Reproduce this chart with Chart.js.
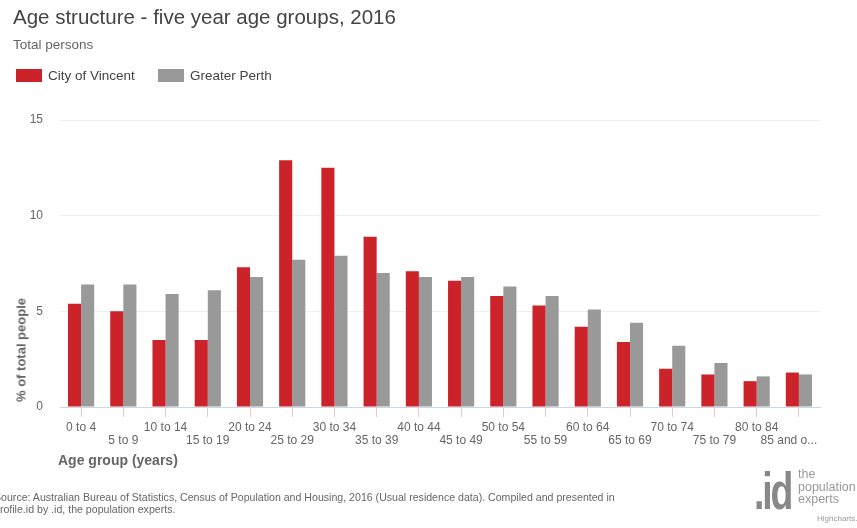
<!DOCTYPE html>
<html>
<head>
<meta charset="utf-8">
<title>Age structure - five year age groups, 2016</title>
<script src="https://cdn.jsdelivr.net/npm/chart.js@4.4.1/dist/chart.umd.min.js"></script>
<style>
  body { margin: 0; background: #fff; font-family: "Liberation Sans", Arial, sans-serif; }
  .wrap { position: relative; width: 857px; height: 528px; overflow: hidden; }
  #ageChart { position: absolute; left: 0; top: 0; }
  .title { position: absolute; left: 13px; top: 5px; font-size: 20.5px; color: #444; white-space: nowrap; }
  .subtitle { position: absolute; left: 13px; top: 37px; font-size: 13.5px; color: #666; }
  .legend { position: absolute; top: 68px; font-size: 13.5px; color: #444; white-space: nowrap; }
  .legend span { display: inline-block; width: 26px; height: 13px; vertical-align: -2px; margin-right: 6px; }
  .ytitle { position: absolute; left: 21px; top: 350px; font-size: 13px; font-weight: bold; color: #666;
            white-space: nowrap; transform: translate(-50%, -50%) rotate(-90deg); }
  .xtitle { position: absolute; left: 58px; top: 452px; font-size: 14px; font-weight: bold; color: #666; white-space: nowrap; }
  .source { position: absolute; left: -6px; top: 491px; font-size: 10.6px; line-height: 12px; color: #666; white-space: nowrap; }
  .logo { position: absolute; left: 754px; top: 461px; font-size: 52px; font-weight: bold; color: #888;
          letter-spacing: -3px; transform: scaleX(0.72); transform-origin: left top; }
  .logo-text { position: absolute; left: 798px; top: 468px; font-size: 12.5px; line-height: 12.5px; color: #999; white-space: nowrap; }
  .credits { position: absolute; left: 817px; top: 514px; font-size: 8px; color: #999; white-space: nowrap; }
</style>
</head>
<body>
<div class="wrap">
  <canvas id="ageChart" width="857" height="528"></canvas>
  <div class="title">Age structure - five year age groups, 2016</div>
  <div class="subtitle">Total persons</div>
  <div class="legend" style="left:16px"><span style="background:#cc2229"></span>City of Vincent</div>
  <div class="legend" style="left:158px"><span style="background:#999999"></span>Greater Perth</div>
  <div class="ytitle">% of total people</div>
  <div class="xtitle">Age group (years)</div>
  <div class="source">Source: Australian Bureau of Statistics, Census of Population and Housing, 2016 (Usual residence data). Compiled and presented in<br>profile.id by .id, the population experts.</div>
  <div class="logo">.id</div>
  <div class="logo-text">the<br>population<br>experts</div>
  <div class="credits">Highcharts.com</div>
</div>
<script>
const ageGroups = [
  "0 to 4", "5 to 9", "10 to 14", "15 to 19", "20 to 24", "25 to 29",
  "30 to 34", "35 to 39", "40 to 44", "45 to 49", "50 to 54", "55 to 59",
  "60 to 64", "65 to 69", "70 to 74", "75 to 79", "80 to 84", "85 and o..."
];
const vincent = [5.4, 5.0, 3.5, 3.5, 7.3, 12.9, 12.5, 8.9, 7.1, 6.6, 5.8, 5.3, 4.2, 3.4, 2.0, 1.7, 1.35, 1.8];
const perth = [6.4, 6.4, 5.9, 6.1, 6.8, 7.7, 7.9, 7.0, 6.8, 6.8, 6.3, 5.8, 5.1, 4.4, 3.2, 2.3, 1.6, 1.7];
const yTicks = [0, 5, 10, 15];

Chart.defaults.font.family = '"Liberation Sans", Arial, sans-serif';

// staggered labels, last one nudged left like the original
function tickLabel(value, i) {
  let text = ageGroups[i];
  if (i === ageGroups.length - 1) text += "      ";
  return i % 2 === 0 ? [text] : ["", text];
}

const ctx = document.getElementById("ageChart").getContext("2d");

new Chart(ctx, {
  type: "bar",
  data: {
    labels: ageGroups,
    datasets: [
      {
        label: "City of Vincent",
        data: vincent,
        backgroundColor: "#cc2229",
        categoryPercentage: 0.62,
        barPercentage: 1.0,
      },
      {
        label: "Greater Perth",
        data: perth,
        backgroundColor: "#999999",
        categoryPercentage: 0.62,
        barPercentage: 1.0,
      },
    ],
  },
  options: {
    responsive: false,
    animation: false,
    layout: {
      padding: { left: 0, right: 37, top: 120, bottom: 81 },
    },
    plugins: {
      legend: { display: false },
      tooltip: { enabled: false },
    },
    scales: {
      x: {
        grid: {
          display: true,
          drawOnChartArea: false,
          offset: false,
          tickLength: 10,
          color: "#ecc8ca",
        },
        border: { color: "#ccd6eb" },
        ticks: {
          autoSkip: false,
          maxRotation: 0,
          minRotation: 0,
          padding: 4,
          color: "#666",
          font: { size: 12, lineHeight: 1.1 },
          callback: tickLabel,
        },
        afterFit: (scale) => {
          scale.height = 40;
        },
      },
      y: {
        min: yTicks[0],
        max: yTicks[yTicks.length - 1],
        afterBuildTicks: (scale) => {
          scale.ticks = yTicks.map((v) => ({ value: v }));
        },
        grid: {
          drawTicks: false,
          color: (c) => (c.tick && c.tick.value === 0 ? "#ccd6eb" : "#eeeeee"),
        },
        border: { display: false },
        ticks: {
          padding: 17,
          color: "#666",
          font: { size: 12 },
        },
        afterFit: (scale) => {
          scale.width = 60;
        },
      },
    },
  },
});
</script>
</body>
</html>
